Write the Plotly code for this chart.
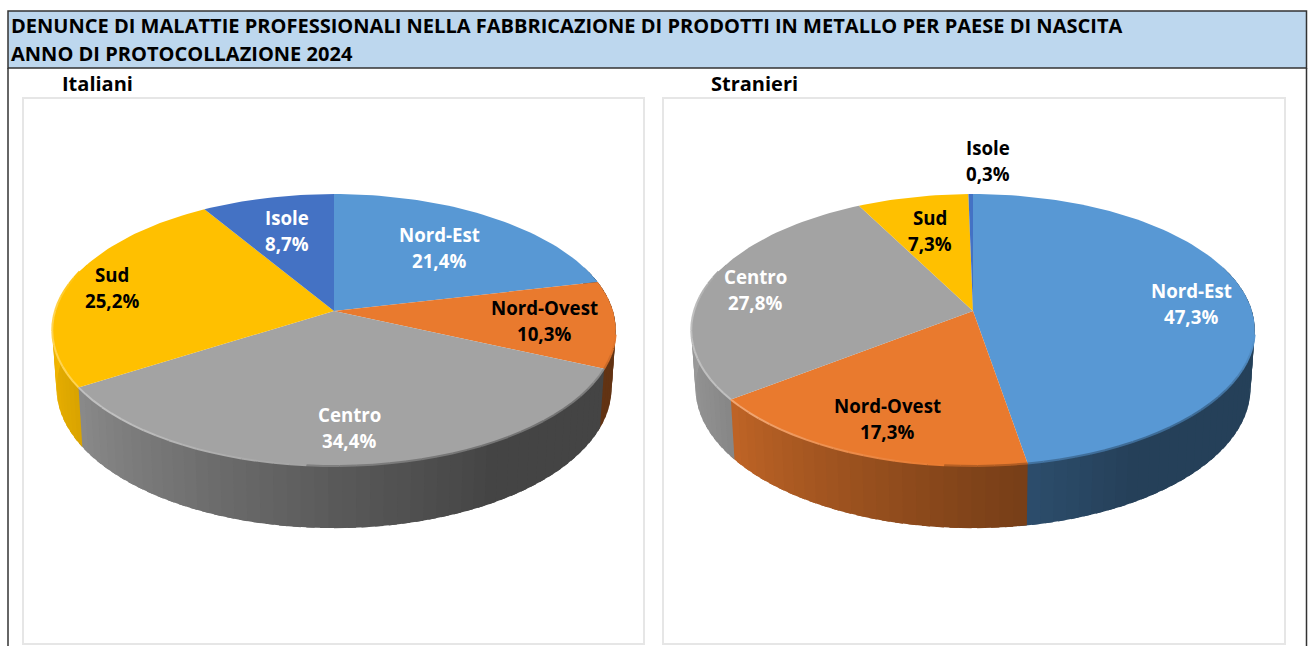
import math
import plotly.graph_objects as go

# ---- data ----
regions = ["Nord-Est", "Nord-Ovest", "Centro", "Sud", "Isole"]
italiani = [21.4, 10.3, 34.4, 25.2, 8.7]
stranieri = [47.3, 17.3, 27.8, 7.3, 0.3]
title_lines = ["DENUNCE DI MALATTIE PROFESSIONALI NELLA FABBRICAZIONE DI PRODOTTI IN METALLO PER PAESE DI NASCITA",
               "ANNO DI PROTOCOLLAZIONE 2024"]
panel_titles = ["Italiani", "Stranieri"]

# ---- styles ----
colors = [(88, 152, 212), (233, 122, 46), (163, 163, 163), (255, 192, 0), (68, 114, 196)]
FONT = "Open Sans"
W, H = 1309, 646
CY, RX, RY, K = 311, 279, 133.3, 0.14
DEPTH, SX, SY = 57.5, 0.985, 1.03
LABEL_SIZE = 18.7
# label centres of each chart (x, y of the name line, y of the value line, colour)
labels_it = [(439, 234, 260, "white"), (544, 307, 333, "black"), (349, 414, 440, "white"),
             (112, 274, 300, "black"), (287, 217, 243, "white")]
labels_st = [(1191, 290, 316, "white"), (887, 405, 431, "black"), (755, 276, 302, "white"),
             (930, 217, 243, "black"), (988, 147, 173, "black")]


def top(cx, th):
    s, c = math.sin(th), math.cos(th)
    d = 1 + K * c
    return cx + RX * s / d, CY - RY * c / d


def bottom(cx, th):
    x, y = top(cx, th)
    return cx + (x - cx) * SX, CY + (y - CY) * SY + DEPTH


def lerp(a, b, t):
    return a + (b - a) * t


def shade(deg):
    pts = [(0, .42), (150, .42), (180, .55), (205, .68), (240, .86), (270, .95), (360, .95)]
    for (a, fa), (b, fb) in zip(pts, pts[1:]):
        if a <= deg <= b:
            return lerp(fa, fb, (deg - a) / (b - a))
    return .95


def rgb(c):
    return "rgb(%d,%d,%d)" % tuple(round(v) for v in c)


def rim_color(base, deg):
    if deg >= 185:
        a = min(1, (deg - 185) / 40) * .32
        if deg > 270:
            a *= max(0, (288 - deg) / 18)
        return tuple(lerp(v, 255, a) for v in base)
    f = (1 + shade(deg)) / 2
    f = lerp(1, f, min(1, max(0, (deg - 100) / 30)))
    return tuple(v * f for v in base)


fig = go.Figure()


def add_pie(values, cx):
    spans, acc = [], 0
    for v in values:
        spans.append((acc * 3.6, (acc + v) * 3.6))
        acc += v
    # side wall strips, each overlapping the next one so that no seams show
    for (a, b), col in zip(spans, colors):
        lo, hi = max(a, 70), min(b, 290)
        n = int((hi - lo) / 2.5) + 1 if hi > lo else 0
        for i in range(n):
            d0 = lerp(lo, hi, i / n)
            d1 = lerp(lo, hi, (i + 1) / n)
            t0, t1 = math.radians(d0), math.radians(d1 + 1.5)
            p = [top(cx, t0), top(cx, t1), bottom(cx, t1), bottom(cx, t0), top(cx, t0)]
            f = shade((d0 + d1) / 2)
            c = rgb(tuple(v * f for v in col))
            fig.add_trace(go.Scatter(x=[q[0] for q in p], y=[q[1] for q in p], mode="lines",
                                     fill="toself", fillcolor=c, line=dict(width=0),
                                     hoverinfo="skip"))
    # top surface
    for (a, b), col in zip(spans, colors):
        n = max(2, int((b - a) / 1.5))
        p = [(cx, CY)] + [top(cx, math.radians(lerp(a, b, i / n))) for i in range(n + 1)] + [(cx, CY)]
        fig.add_trace(go.Scatter(x=[q[0] for q in p], y=[q[1] for q in p], mode="lines",
                                 fill="toself", fillcolor=rgb(col), line=dict(width=0),
                                 hoverinfo="skip"))
    # bevelled rim
    for (a, b), col in zip(spans, colors):
        lo, hi = max(a, 100), min(b, 288)
        n = int((hi - lo) / 3) + 1 if hi > lo else 0
        for i in range(n):
            d0 = lerp(lo, hi, i / n)
            d1 = lerp(lo, hi, (i + 1) / n)
            p = [top(cx, math.radians(d0)), top(cx, math.radians(d1))]
            c = rgb(rim_color(col, (d0 + d1) / 2))
            fig.add_trace(go.Scatter(x=[q[0] for q in p], y=[q[1] for q in p], mode="lines",
                                     line=dict(color=c, width=2), hoverinfo="skip"))


add_pie(italiani, 334)
add_pie(stranieri, 973)

ann = []


def text(x, y, s, size=LABEL_SIZE, color="black", anchor="center"):
    ann.append(dict(x=x, y=y, xref="x", yref="y", text="<b>%s</b>" % s, showarrow=False,
                    xanchor=anchor, yanchor="middle",
                    font=dict(family=FONT, size=size, color=color)))


for vals, labs in ((italiani, labels_it), (stranieri, labels_st)):
    for name, v, (x, y0, y1, c) in zip(regions, vals, labs):
        text(x, y0, name, color=c)
        text(x, y1, ("%.1f%%" % v).replace(".", ","), color=c)

text(9, 25, title_lines[0], size=20.05, anchor="left")
text(9, 53, title_lines[1], size=20.05, anchor="left")
text(60, 83, panel_titles[0], size=20, anchor="left")
text(709, 83, panel_titles[1], size=20, anchor="left")

line_dark = dict(color="#333333", width=1.5)
panel = dict(color="#e6e6e6", width=2)
shapes = [
    dict(type="rect", x0=8, x1=1306.5, y0=11, y1=68, fillcolor="#bdd7ee", line=line_dark, layer="below"),
    dict(type="line", x0=8, x1=8, y0=68, y1=646, line=line_dark, layer="below"),
    dict(type="line", x0=1306.5, x1=1306.5, y0=68, y1=646, line=line_dark, layer="below"),
    dict(type="rect", x0=23, x1=644, y0=98, y1=644, line=panel, layer="below"),
    dict(type="rect", x0=663, x1=1285, y0=98, y1=644, line=panel, layer="below"),
]

fig.update_layout(
    width=W, height=H, margin=dict(l=0, r=0, t=0, b=0), showlegend=False,
    paper_bgcolor="white", plot_bgcolor="white",
    xaxis=dict(range=[0, W], visible=False, fixedrange=True),
    yaxis=dict(range=[H, 0], visible=False, fixedrange=True),
    annotations=ann, shapes=shapes,
)
fig.write_html("out.html", config={"displayModeBar": False},
               post_script="document.body.style.margin='0';document.body.style.overflow='hidden';")
